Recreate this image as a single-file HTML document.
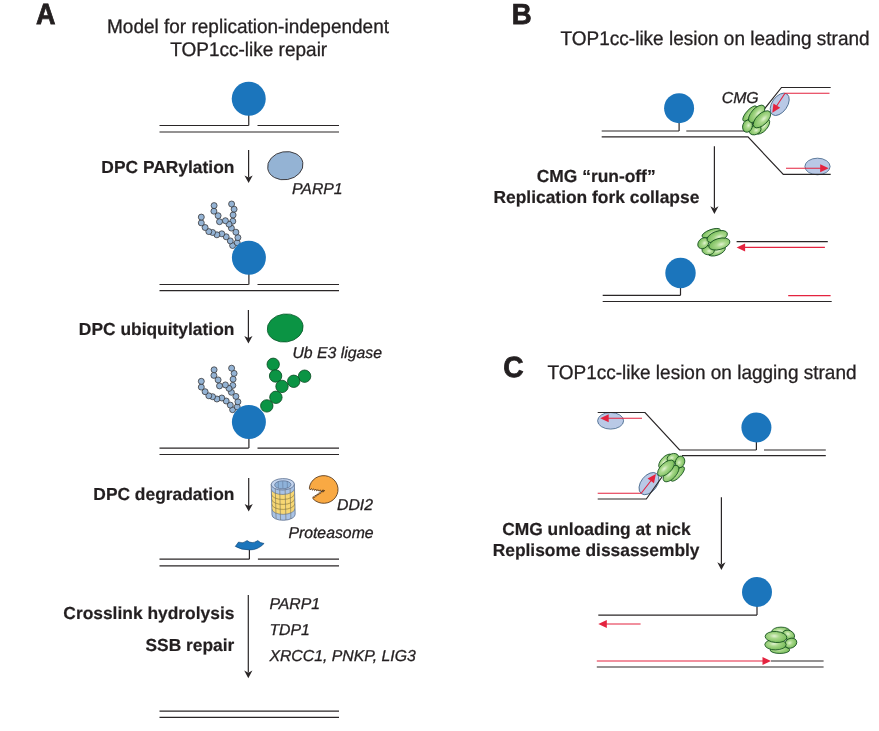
<!DOCTYPE html>
<html><head><meta charset="utf-8"><title>TOP1cc-like repair model</title>
<style>
html,body{margin:0;padding:0;background:#fff;}
body{width:879px;height:731px;overflow:hidden;}
svg{display:block;will-change:transform;}
text{text-rendering:geometricPrecision;font-family:"Liberation Sans",Arial,Helvetica,sans-serif;fill:#231f20;}
.r,.i{stroke:#231f20;stroke-width:0.3px;}
.b{font-weight:bold;stroke:#231f20;stroke-width:0.2px;}
.i{font-style:italic;}
.lab{stroke-width:0.8px;}
</style></head><body>
<svg width="879" height="731" viewBox="0 0 879 731">
<defs>
<radialGradient id="gg" cx="0.42" cy="0.42" r="0.65">
<stop offset="0" stop-color="#e2f3d2"/><stop offset="0.35" stop-color="#a9d88b"/><stop offset="1" stop-color="#70b853"/>
</radialGradient>
</defs>
<text transform="translate(45.8,24.3) scale(0.92,1)" font-size="29.3" class="b lab" text-anchor="middle">A</text>
<text transform="translate(248.0,32.8) scale(1,1.04)" font-size="19" class="r" text-anchor="middle">Model for replication-independent</text>
<text transform="translate(248.7,56.4) scale(1,1.04)" font-size="19" class="r" text-anchor="middle">TOP1cc-like repair</text>
<path d="M159.50,125.50 L248.75,125.50" fill="none" stroke="#2a2627" stroke-width="1.2" />
<path d="M257.50,125.50 L339.00,125.50" fill="none" stroke="#2a2627" stroke-width="1.2" />
<path d="M159.50,132.00 L339.00,132.00" fill="none" stroke="#2a2627" stroke-width="1.2" />
<path d="M248.75,98.75 V125.5" stroke="#2a2627" stroke-width="1.2" fill="none"/>
<circle cx="248.75" cy="98.75" r="17" fill="#1b75bc"/>
<path d="M248.6,150 V177.4" stroke="#2a2627" stroke-width="1.2" fill="none"/>
<path d="M248.6,183 L244.5,175.4 L248.6,177.6 L252.7,175.4 Z" fill="#2a2627"/>
<text transform="translate(234.4,172.6) scale(1,1.0)" font-size="17.4" class="b" text-anchor="end">DPC PARylation</text>
<ellipse cx="285.3" cy="165.7" rx="17.8" ry="14" fill="#94b3d4" stroke="#2a2627" stroke-width="0.8" transform="rotate(-10 285.3 165.7)"/>
<text transform="translate(292,194.1) scale(1,1.0)" font-size="15.8" class="i" text-anchor="start">PARP1</text>
<circle cx="232.6" cy="245.5" r="3.0" fill="#94b3d4" stroke="#2a2627" stroke-width="0.7"/>
<circle cx="230.3" cy="240.9" r="3.0" fill="#94b3d4" stroke="#2a2627" stroke-width="0.7"/>
<circle cx="226.2" cy="236.8" r="3.0" fill="#94b3d4" stroke="#2a2627" stroke-width="0.7"/>
<circle cx="221.8" cy="233.8" r="3.0" fill="#94b3d4" stroke="#2a2627" stroke-width="0.7"/>
<circle cx="216.9" cy="234.8" r="3.0" fill="#94b3d4" stroke="#2a2627" stroke-width="0.7"/>
<circle cx="212.6" cy="232.5" r="3.0" fill="#94b3d4" stroke="#2a2627" stroke-width="0.7"/>
<circle cx="208.8" cy="231.6" r="3.0" fill="#94b3d4" stroke="#2a2627" stroke-width="0.7"/>
<circle cx="205.1" cy="227.5" r="3.0" fill="#94b3d4" stroke="#2a2627" stroke-width="0.7"/>
<circle cx="201.3" cy="222.9" r="3.0" fill="#94b3d4" stroke="#2a2627" stroke-width="0.7"/>
<circle cx="201.3" cy="217.1" r="3.0" fill="#94b3d4" stroke="#2a2627" stroke-width="0.7"/>
<circle cx="232.8" cy="221.2" r="3.0" fill="#94b3d4" stroke="#2a2627" stroke-width="0.7"/>
<circle cx="233.1" cy="215.0" r="3.0" fill="#94b3d4" stroke="#2a2627" stroke-width="0.7"/>
<circle cx="234.1" cy="209.2" r="3.0" fill="#94b3d4" stroke="#2a2627" stroke-width="0.7"/>
<circle cx="231.6" cy="204.0" r="3.0" fill="#94b3d4" stroke="#2a2627" stroke-width="0.7"/>
<circle cx="237.2" cy="242.7" r="3.0" fill="#94b3d4" stroke="#2a2627" stroke-width="0.7"/>
<circle cx="237.9" cy="237.6" r="3.0" fill="#94b3d4" stroke="#2a2627" stroke-width="0.7"/>
<circle cx="235.9" cy="232.2" r="3.0" fill="#94b3d4" stroke="#2a2627" stroke-width="0.7"/>
<circle cx="231.4" cy="228.1" r="3.0" fill="#94b3d4" stroke="#2a2627" stroke-width="0.7"/>
<circle cx="229.0" cy="224.2" r="3.0" fill="#94b3d4" stroke="#2a2627" stroke-width="0.7"/>
<circle cx="225.4" cy="220.7" r="3.0" fill="#94b3d4" stroke="#2a2627" stroke-width="0.7"/>
<circle cx="219.5" cy="221.7" r="3.0" fill="#94b3d4" stroke="#2a2627" stroke-width="0.7"/>
<circle cx="218.1" cy="215.7" r="3.0" fill="#94b3d4" stroke="#2a2627" stroke-width="0.7"/>
<circle cx="213.9" cy="211.2" r="3.0" fill="#94b3d4" stroke="#2a2627" stroke-width="0.7"/>
<circle cx="214.1" cy="205.6" r="3.0" fill="#94b3d4" stroke="#2a2627" stroke-width="0.7"/>
<path d="M159.50,284.50 L248.75,284.50" fill="none" stroke="#2a2627" stroke-width="1.2" />
<path d="M257.50,284.50 L339.00,284.50" fill="none" stroke="#2a2627" stroke-width="1.2" />
<path d="M159.50,290.60 L339.00,290.60" fill="none" stroke="#2a2627" stroke-width="1.2" />
<path d="M248.9,257.8 V284.5" stroke="#2a2627" stroke-width="1.2" fill="none"/>
<circle cx="248.9" cy="257.8" r="17" fill="#1b75bc"/>
<path d="M248.4,310 V337.9" stroke="#2a2627" stroke-width="1.2" fill="none"/>
<path d="M248.4,343.5 L244.3,335.9 L248.4,338.09999999999997 L252.5,335.9 Z" fill="#2a2627"/>
<text transform="translate(234.4,335.2) scale(1,1.0)" font-size="17.4" class="b" text-anchor="end">DPC ubiquitylation</text>
<ellipse cx="285.2" cy="328" rx="18" ry="14" fill="#0b9444" stroke="#0a5c2c" stroke-width="0.8" transform="rotate(-8 285.2 328)"/>
<text transform="translate(292.4,358.4) scale(1,1.0)" font-size="15.8" class="i" text-anchor="start">Ub E3 ligase</text>
<circle cx="232.6" cy="409.7" r="3.0" fill="#94b3d4" stroke="#2a2627" stroke-width="0.7"/>
<circle cx="230.3" cy="405.1" r="3.0" fill="#94b3d4" stroke="#2a2627" stroke-width="0.7"/>
<circle cx="226.2" cy="401.0" r="3.0" fill="#94b3d4" stroke="#2a2627" stroke-width="0.7"/>
<circle cx="221.8" cy="398.0" r="3.0" fill="#94b3d4" stroke="#2a2627" stroke-width="0.7"/>
<circle cx="216.9" cy="399.0" r="3.0" fill="#94b3d4" stroke="#2a2627" stroke-width="0.7"/>
<circle cx="212.6" cy="396.7" r="3.0" fill="#94b3d4" stroke="#2a2627" stroke-width="0.7"/>
<circle cx="208.8" cy="395.8" r="3.0" fill="#94b3d4" stroke="#2a2627" stroke-width="0.7"/>
<circle cx="205.1" cy="391.7" r="3.0" fill="#94b3d4" stroke="#2a2627" stroke-width="0.7"/>
<circle cx="201.3" cy="387.1" r="3.0" fill="#94b3d4" stroke="#2a2627" stroke-width="0.7"/>
<circle cx="201.3" cy="381.3" r="3.0" fill="#94b3d4" stroke="#2a2627" stroke-width="0.7"/>
<circle cx="232.8" cy="385.4" r="3.0" fill="#94b3d4" stroke="#2a2627" stroke-width="0.7"/>
<circle cx="233.1" cy="379.2" r="3.0" fill="#94b3d4" stroke="#2a2627" stroke-width="0.7"/>
<circle cx="234.1" cy="373.4" r="3.0" fill="#94b3d4" stroke="#2a2627" stroke-width="0.7"/>
<circle cx="231.6" cy="368.2" r="3.0" fill="#94b3d4" stroke="#2a2627" stroke-width="0.7"/>
<circle cx="237.2" cy="406.9" r="3.0" fill="#94b3d4" stroke="#2a2627" stroke-width="0.7"/>
<circle cx="237.9" cy="401.8" r="3.0" fill="#94b3d4" stroke="#2a2627" stroke-width="0.7"/>
<circle cx="235.9" cy="396.4" r="3.0" fill="#94b3d4" stroke="#2a2627" stroke-width="0.7"/>
<circle cx="231.4" cy="392.3" r="3.0" fill="#94b3d4" stroke="#2a2627" stroke-width="0.7"/>
<circle cx="229.0" cy="388.4" r="3.0" fill="#94b3d4" stroke="#2a2627" stroke-width="0.7"/>
<circle cx="225.4" cy="384.9" r="3.0" fill="#94b3d4" stroke="#2a2627" stroke-width="0.7"/>
<circle cx="219.5" cy="385.9" r="3.0" fill="#94b3d4" stroke="#2a2627" stroke-width="0.7"/>
<circle cx="218.1" cy="379.9" r="3.0" fill="#94b3d4" stroke="#2a2627" stroke-width="0.7"/>
<circle cx="213.9" cy="375.4" r="3.0" fill="#94b3d4" stroke="#2a2627" stroke-width="0.7"/>
<circle cx="214.1" cy="369.8" r="3.0" fill="#94b3d4" stroke="#2a2627" stroke-width="0.7"/>
<circle cx="266.8" cy="405.9" r="6.2" fill="#0b9444" stroke="#0a4a22" stroke-width="0.8"/>
<circle cx="275.9" cy="397.3" r="6.2" fill="#0b9444" stroke="#0a4a22" stroke-width="0.8"/>
<circle cx="304.6" cy="376.2" r="6.2" fill="#0b9444" stroke="#0a4a22" stroke-width="0.8"/>
<circle cx="293.7" cy="381.3" r="6.2" fill="#0b9444" stroke="#0a4a22" stroke-width="0.8"/>
<circle cx="273.2" cy="364.3" r="6.2" fill="#0b9444" stroke="#0a4a22" stroke-width="0.8"/>
<circle cx="275.6" cy="376.0" r="6.2" fill="#0b9444" stroke="#0a4a22" stroke-width="0.8"/>
<circle cx="282.0" cy="386.4" r="6.2" fill="#0b9444" stroke="#0a4a22" stroke-width="0.8"/>
<path d="M159.50,448.10 L248.75,448.10" fill="none" stroke="#2a2627" stroke-width="1.2" />
<path d="M257.50,448.10 L339.00,448.10" fill="none" stroke="#2a2627" stroke-width="1.2" />
<path d="M159.50,454.50 L339.00,454.50" fill="none" stroke="#2a2627" stroke-width="1.2" />
<path d="M248.9,422 V448.1" stroke="#2a2627" stroke-width="1.2" fill="none"/>
<circle cx="248.9" cy="422" r="17" fill="#1b75bc"/>
<path d="M248.7,478 V505.9" stroke="#2a2627" stroke-width="1.2" fill="none"/>
<path d="M248.7,511.5 L244.6,503.9 L248.7,506.09999999999997 L252.79999999999998,503.9 Z" fill="#2a2627"/>
<text transform="translate(234.4,499.8) scale(1,1.0)" font-size="17.4" class="b" text-anchor="end">DPC degradation</text>
<g transform="rotate(-1.5 283 500)">
<clipPath id="pc"><path d="M271.59999999999997,484.3 V514.6 A11.6,5.7 0 0 0 294.8,514.6 V484.3 Z"/></clipPath>
<g clip-path="url(#pc)">
<rect x="271.59999999999997" y="484.3" width="23.2" height="40" fill="#a9c3e6"/>
<path d="M271.59999999999997,488.8 A11.6,5.7 0 0 0 294.8,488.8 V508.70000000000005 A11.6,5.7 0 0 1 271.59999999999997,508.70000000000005 Z" fill="#f7d774"/>
<path d="M271.59999999999997,493.78 A11.6,5.7 0 0 0 294.8,493.78" fill="none" stroke="#7b6a2e" stroke-width="0.55"/>
<path d="M271.59999999999997,498.75 A11.6,5.7 0 0 0 294.8,498.75" fill="none" stroke="#7b6a2e" stroke-width="0.55"/>
<path d="M271.59999999999997,503.73 A11.6,5.7 0 0 0 294.8,503.73" fill="none" stroke="#7b6a2e" stroke-width="0.55"/>
<path d="M271.59999999999997,488.80 A11.6,5.7 0 0 0 294.8,488.80" fill="none" stroke="#5b6f8f" stroke-width="0.6"/>
<path d="M271.59999999999997,508.70 A11.6,5.7 0 0 0 294.8,508.70" fill="none" stroke="#5b6f8f" stroke-width="0.6"/>
<path d="M275.60,484.3 V520.3000000000001" stroke="#6d6a5a" stroke-width="0.55" fill="none"/>
<path d="M280.00,484.3 V520.3000000000001" stroke="#6d6a5a" stroke-width="0.55" fill="none"/>
<path d="M285.40,484.3 V520.3000000000001" stroke="#6d6a5a" stroke-width="0.55" fill="none"/>
<path d="M290.40,484.3 V520.3000000000001" stroke="#6d6a5a" stroke-width="0.55" fill="none"/>
</g>
<path d="M271.59999999999997,484.3 V514.6 A11.6,5.7 0 0 0 294.8,514.6 V484.3 Z" fill="none" stroke="#5b6f8f" stroke-width="0.8"/>
<ellipse cx="283.2" cy="484.3" rx="11.6" ry="5.7" fill="#c3d4ee" stroke="#5b6f8f" stroke-width="0.8"/>
<ellipse cx="283.2" cy="484.8" rx="8.2" ry="4" fill="#8eb2da" stroke="#5b6f8f" stroke-width="0.7"/>
<path d="M278.7,481.1 V488.5" stroke="#5b6f8f" stroke-width="0.5"/>
<path d="M283.2,481.1 V488.5" stroke="#5b6f8f" stroke-width="0.5"/>
<path d="M287.7,481.1 V488.5" stroke="#5b6f8f" stroke-width="0.5"/>
</g>
<path d="M309.3,488.2 A14.4,13.85 0 1 1 312.9,498.7 L313.03,496.79 L314.87,497.35 L315.00,495.44 L316.83,496.00 L316.97,494.09 L318.80,494.65 L318.93,492.74 L320.77,493.30 L320.90,491.39 L322.73,491.95 L322.87,490.04 L324.70,490.60 L323.37,491.91 L322.50,490.26 L321.17,491.57 L320.30,489.91 L318.97,491.22 L318.10,489.57 L316.77,490.88 L315.90,489.23 L314.57,490.54 L313.70,488.89 L312.37,490.20 L311.50,488.54 L310.17,489.85 L309.30,488.20 Z" fill="#f9a943" stroke="#4a2c10" stroke-width="0.8" stroke-linejoin="round"/>
<text transform="translate(337.0,509.6) scale(1,1.0)" font-size="15.8" class="i" text-anchor="start">DDI2</text>
<text transform="translate(288.4,538.2) scale(1,1.0)" font-size="15.8" class="i" text-anchor="start">Proteasome</text>
<path d="M159.50,559.10 L249.30,559.10" fill="none" stroke="#2a2627" stroke-width="1.2" />
<path d="M257.90,559.10 L339.00,559.10" fill="none" stroke="#2a2627" stroke-width="1.2" />
<path d="M159.50,565.80 L339.00,565.80" fill="none" stroke="#2a2627" stroke-width="1.2" />
<path d="M249.4,549.8 V559.2" stroke="#2a2627" stroke-width="1.2" fill="none"/>
<path d="M235.3,546.4 L238.5,542.1 Q242.8,544.2 247.1,540.6 Q252,544.6 257.8,540.6 Q260,543 264.1,543.5 Q258,550 249.7,549.9 Q241,549.9 235.3,546.4 Z" fill="#1b75bc" stroke="#0d3f6e" stroke-width="0.6"/>
<path d="M248.3,595 V672.6" stroke="#2a2627" stroke-width="1.2" fill="none"/>
<path d="M248.3,678.2 L244.20000000000002,670.6 L248.3,672.8000000000001 L252.4,670.6 Z" fill="#2a2627"/>
<text transform="translate(234.4,618.9) scale(1,1.0)" font-size="17.4" class="b" text-anchor="end">Crosslink hydrolysis</text>
<text transform="translate(234.4,651.4) scale(1,1.0)" font-size="17.4" class="b" text-anchor="end">SSB repair</text>
<text transform="translate(269.4,609.0) scale(1,1.0)" font-size="15.8" class="i" text-anchor="start">PARP1</text>
<text transform="translate(269.4,634.7) scale(1,1.0)" font-size="15.8" class="i" text-anchor="start">TDP1</text>
<text transform="translate(269.4,660.6) scale(1,1.0)" font-size="15.8" class="i" text-anchor="start">XRCC1, PNKP, LIG3</text>
<path d="M159.50,711.20 L339.00,711.20" fill="none" stroke="#2a2627" stroke-width="1.2" />
<path d="M159.50,717.40 L339.00,717.40" fill="none" stroke="#2a2627" stroke-width="1.2" />
<text transform="translate(521.7,24.2) scale(0.95,1)" font-size="29" class="b lab" text-anchor="middle">B</text>
<text transform="translate(715.1,45.4) scale(1,1.04)" font-size="19" class="r" text-anchor="middle">TOP1cc-like lesion on leading strand</text>
<ellipse cx="779.7" cy="104.3" rx="12.6" ry="7.6" fill="#b9c9e6" stroke="#3f6287" stroke-width="0.8" transform="rotate(-55 779.7 104.3)"/>
<ellipse cx="817.5" cy="166.5" rx="12.6" ry="8.3" fill="#b9c9e6" stroke="#3f6287" stroke-width="0.8" transform="rotate(0 817.5 166.5)"/>
<path d="M601.70,131.00 L679.10,131.00" fill="none" stroke="#2a2627" stroke-width="1.2" />
<path d="M686.30,131.00 L747.00,131.00 L781.50,87.50 L830.70,87.50" fill="none" stroke="#2a2627" stroke-width="1.2" />
<path d="M601.70,136.90 L748.00,136.90 L783.30,174.40 L830.70,174.40" fill="none" stroke="#2a2627" stroke-width="1.2" />
<path d="M679.1,108.2 V131" stroke="#2a2627" stroke-width="1.2" fill="none"/>
<circle cx="679.1" cy="108.2" r="15" fill="#1b75bc"/>
<path d="M829.50,93.20 L785.00,93.20 L776.00,107.00" fill="none" stroke="#e4233f" stroke-width="1.1" />
<path d="M0,0 L-8.5,-4 L-8.5,4 Z" fill="#e4233f" transform="translate(772.3,112.8) rotate(122)"/>
<path d="M786.00,168.20 L822.00,168.20" fill="none" stroke="#e4233f" stroke-width="1.1" />
<path d="M0,0 L-8.5,-4 L-8.5,4 Z" fill="#e4233f" transform="translate(828.7,168.2) rotate(0)"/>
<g transform="translate(756.2,120.8) rotate(132)" stroke="#0f4a1a" stroke-width="0.8" fill="url(#gg)">
<ellipse cx="0" cy="-8.6" rx="9.3" ry="4.6"/>
<ellipse cx="-1.1" cy="9.6" rx="9.8" ry="3.6"/>
<ellipse cx="7.6" cy="-5.3" rx="6.2" ry="4.6" transform="rotate(25 7.6 -5.3)"/>
<ellipse cx="9.8" cy="2.9" rx="6.2" ry="4.8" transform="rotate(-25 9.8 2.9)"/>
<ellipse cx="-5.5" cy="4.3" rx="10.7" ry="5.3"/>
<ellipse cx="-5" cy="-3.3" rx="10.9" ry="5.5" transform="rotate(4 -5 -3.3)"/>
</g>
<text transform="translate(721.8,103.0) scale(1,1.0)" font-size="15.8" class="i" text-anchor="start">CMG</text>
<path d="M714.4,146.2 V208.3" stroke="#2a2627" stroke-width="1.2" fill="none"/>
<path d="M714.4,213.9 L710.3,206.3 L714.4,208.5 L718.5,206.3 Z" fill="#2a2627"/>
<text transform="translate(596.2,182.0) scale(1,1.0)" font-size="17.4" class="b" text-anchor="middle">CMG “run-off”</text>
<text transform="translate(596.4,202.7) scale(1,1.0)" font-size="17.4" class="b" text-anchor="middle">Replication fork collapse</text>
<g transform="translate(713.5,242.6) rotate(160)" stroke="#0f4a1a" stroke-width="0.8" fill="url(#gg)">
<ellipse cx="0" cy="-8.6" rx="9.3" ry="4.6"/>
<ellipse cx="-1.1" cy="9.6" rx="9.8" ry="3.6"/>
<ellipse cx="7.6" cy="-5.3" rx="6.2" ry="4.6" transform="rotate(25 7.6 -5.3)"/>
<ellipse cx="9.8" cy="2.9" rx="6.2" ry="4.8" transform="rotate(-25 9.8 2.9)"/>
<ellipse cx="-5.5" cy="4.3" rx="10.7" ry="5.3"/>
<ellipse cx="-5" cy="-3.3" rx="10.9" ry="5.5" transform="rotate(4 -5 -3.3)"/>
</g>
<path d="M736.60,241.70 L827.80,241.70" fill="none" stroke="#2a2627" stroke-width="1.2" />
<path d="M743.00,247.40 L824.90,247.40" fill="none" stroke="#e4233f" stroke-width="1.1" />
<path d="M0,0 L-8.5,-4 L-8.5,4 Z" fill="#e4233f" transform="translate(736.6,247.4) rotate(180)"/>
<path d="M788.20,295.60 L830.60,295.60" fill="none" stroke="#e4233f" stroke-width="1.1" />
<path d="M602.70,295.30 L680.50,295.30" fill="none" stroke="#2a2627" stroke-width="1.2" />
<path d="M602.70,301.50 L831.70,301.50" fill="none" stroke="#2a2627" stroke-width="1.2" />
<path d="M680.5,273 V295.3" stroke="#2a2627" stroke-width="1.2" fill="none"/>
<circle cx="680.5" cy="273" r="15.2" fill="#1b75bc"/>
<text transform="translate(513.5,376.6) scale(0.97,1)" font-size="29" class="b lab" text-anchor="middle">C</text>
<text transform="translate(702,378.9) scale(1,1.04)" font-size="19" class="r" text-anchor="middle">TOP1cc-like lesion on lagging strand</text>
<ellipse cx="610.6" cy="420.8" rx="13" ry="8.3" fill="#b9c9e6" stroke="#3f6287" stroke-width="0.8" transform="rotate(0 610.6 420.8)"/>
<ellipse cx="649" cy="483.6" rx="12.6" ry="8" fill="#b9c9e6" stroke="#3f6287" stroke-width="0.8" transform="rotate(-52 649 483.6)"/>
<path d="M597.70,412.50 L645.00,412.50 L679.60,450.00 L756.30,450.00" fill="none" stroke="#2a2627" stroke-width="1.2" />
<path d="M764.00,450.00 L825.80,450.00" fill="none" stroke="#2a2627" stroke-width="1.2" />
<path d="M682.00,455.60 L825.80,455.60" fill="none" stroke="#2a2627" stroke-width="1.2" />
<path d="M597.70,499.00 L646.30,499.00 L662.00,477.00" fill="none" stroke="#2a2627" stroke-width="1.2" />
<path d="M756.4,427.5 V450" stroke="#2a2627" stroke-width="1.2" fill="none"/>
<circle cx="756.4" cy="427.5" r="15" fill="#1b75bc"/>
<path d="M607.00,418.30 L642.00,418.30" fill="none" stroke="#e4233f" stroke-width="1.1" />
<path d="M0,0 L-8.5,-4 L-8.5,4 Z" fill="#e4233f" transform="translate(600.2,418.3) rotate(180)"/>
<path d="M597.70,493.30 L641.20,493.30 L651.50,480.00" fill="none" stroke="#e4233f" stroke-width="1.1" />
<path d="M0,0 L-8.5,-4 L-8.5,4 Z" fill="#e4233f" transform="translate(655.9,474) rotate(-53)"/>
<g transform="translate(671.6,466.9) rotate(-47) scale(0.96)" stroke="#0f4a1a" stroke-width="0.8" fill="url(#gg)">
<ellipse cx="0" cy="-8.6" rx="9.3" ry="4.6"/>
<ellipse cx="-1.1" cy="9.6" rx="9.8" ry="3.6"/>
<ellipse cx="7.6" cy="-5.3" rx="6.2" ry="4.6" transform="rotate(25 7.6 -5.3)"/>
<ellipse cx="9.8" cy="2.9" rx="6.2" ry="4.8" transform="rotate(-25 9.8 2.9)"/>
<ellipse cx="-5.5" cy="4.3" rx="10.7" ry="5.3"/>
<ellipse cx="-5" cy="-3.3" rx="10.9" ry="5.5" transform="rotate(4 -5 -3.3)"/>
</g>
<path d="M721.4,497.3 V564.3" stroke="#2a2627" stroke-width="1.2" fill="none"/>
<path d="M721.4,569.9 L717.3,562.3 L721.4,564.5 L725.5,562.3 Z" fill="#2a2627"/>
<text transform="translate(596.4,535) scale(1,1.0)" font-size="17.4" class="b" text-anchor="middle">CMG unloading at nick</text>
<text transform="translate(596.1,555.7) scale(1,1.0)" font-size="17.4" class="b" text-anchor="middle">Replisome dissassembly</text>
<path d="M598.30,615.10 L757.00,615.10" fill="none" stroke="#2a2627" stroke-width="1.2" />
<path d="M757,592 V615.1" stroke="#2a2627" stroke-width="1.2" fill="none"/>
<circle cx="757" cy="592" r="15" fill="#1b75bc"/>
<path d="M605.00,624.00 L640.60,624.00" fill="none" stroke="#e4233f" stroke-width="1.1" />
<path d="M0,0 L-8.5,-4 L-8.5,4 Z" fill="#e4233f" transform="translate(598.3,624) rotate(180)"/>
<path d="M596.80,661.00 L765.00,661.00" fill="none" stroke="#e4233f" stroke-width="1.1" />
<path d="M0,0 L-8.5,-4 L-8.5,4 Z" fill="#e4233f" transform="translate(771,661) rotate(0)"/>
<path d="M771.00,661.00 L823.60,661.00" fill="none" stroke="#2a2627" stroke-width="1.2" />
<path d="M596.80,667.00 L823.60,667.00" fill="none" stroke="#2a2627" stroke-width="1.2" />
<g transform="translate(781,640.3)" stroke="#0f4a1a" stroke-width="0.8" fill="url(#gg)">
<ellipse cx="0" cy="-8.6" rx="9.3" ry="4.6"/>
<ellipse cx="-1.1" cy="9.6" rx="9.8" ry="3.6"/>
<ellipse cx="7.6" cy="-5.3" rx="6.2" ry="4.6" transform="rotate(25 7.6 -5.3)"/>
<ellipse cx="9.8" cy="2.9" rx="6.2" ry="4.8" transform="rotate(-25 9.8 2.9)"/>
<ellipse cx="-5.5" cy="4.3" rx="10.7" ry="5.3"/>
<ellipse cx="-5" cy="-3.3" rx="10.9" ry="5.5" transform="rotate(4 -5 -3.3)"/>
</g>
</svg>
</body></html>
